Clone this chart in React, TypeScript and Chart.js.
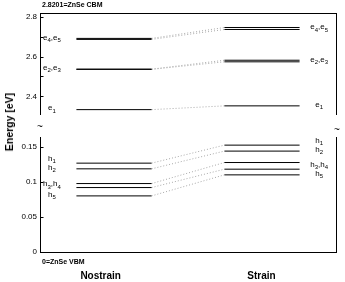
import React, { useEffect, useRef } from 'react';
import { Chart, registerables } from 'chart.js';

Chart.register(...registerables);

// ---------- data ----------
const categories = ['Nostrain', 'Strain'];
const cbmValue = 2.8201;
const vbmValue = 0;

const electronNames = ['e1', 'e2', 'e3', 'e4', 'e5'];
const electronNostrain = [2.333, 2.537, 2.536, 2.692, 2.687];
const electronStrain = [2.352, 2.582, 2.574, 2.747, 2.737];
const electronGroups = [[0], [1, 2], [3, 4]];

const holeNames = ['h1', 'h2', 'h3', 'h4', 'h5'];
const holeNostrain = [0.1267, 0.1186, 0.0976, 0.0919, 0.08];
const holeStrain = [0.1524, 0.1439, 0.1276, 0.1181, 0.11];
const holeGroups = [[0], [1], [2, 3], [4]];

const upperTicks = [2.4, 2.5, 2.6, 2.7, 2.8];
const upperTickLabels = ['2.4', '', '2.6', '', '2.8'];
const lowerTicks = [0, 0.05, 0.1, 0.15];
const lowerTickLabels = ['0', '0.05', '0.1', '0.15'];
const upperRange = [2.31, 2.82];
const lowerRange = [0, 0.164];

// ---------- layout / style ----------
const W = 345;
const UPPER_H = 122;
const LOWER_H = 160;
const PLOT_LEFT = 40;
const PLOT_RIGHT = 336;
const FONT = '"Liberation Sans", Arial, Helvetica, sans-serif';
const LEVEL_CENTER = [0.25, 0.75];
const LEVEL_HALF = 0.127;
const LABEL_X = [0.04, 0.943];
const CAT_LABEL_X = [0.205, 0.748];

Chart.defaults.font.family = FONT;
Chart.defaults.font.size = 8;
Chart.defaults.color = '#000';

function buildDatasets(names: string[], byCat: number[][]) {
  const ds: any[] = [];
  byCat.forEach((vals, c) => {
    vals.forEach((v, i) => {
      ds.push({
        label: `${names[i]} ${categories[c]}`,
        data: [
          { x: LEVEL_CENTER[c] - LEVEL_HALF, y: v },
          { x: LEVEL_CENTER[c] + LEVEL_HALF, y: v },
        ],
        borderColor: '#000',
        borderWidth: 1,
        pointRadius: 0,
        fill: false,
      });
    });
  });
  names.forEach((n, i) => {
    ds.push({
      label: `${n} shift`,
      data: [
        { x: LEVEL_CENTER[0] + LEVEL_HALF, y: byCat[0][i] },
        { x: LEVEL_CENTER[1] - LEVEL_HALF, y: byCat[1][i] },
      ],
      borderColor: '#a8a8a8',
      borderWidth: 1,
      borderDash: [1, 2],
      pointRadius: 0,
      fill: false,
    });
  });
  return ds;
}

function drawSubLabel(ctx: CanvasRenderingContext2D, names: string[], cx: number, cy: number) {
  const baseFont = `8px ${FONT}`;
  const subFont = `6px ${FONT}`;
  const pieces: { t: string; sub: boolean }[] = [];
  names.forEach((n, k) => {
    if (k) pieces.push({ t: ',', sub: false });
    pieces.push({ t: n[0], sub: false });
    pieces.push({ t: n.slice(1), sub: true });
  });
  let total = 0;
  const widths = pieces.map((p) => {
    ctx.font = p.sub ? subFont : baseFont;
    const w = ctx.measureText(p.t).width;
    total += w;
    return w;
  });
  let x = cx - total / 2;
  ctx.textAlign = 'left';
  ctx.textBaseline = 'middle';
  ctx.fillStyle = '#000';
  pieces.forEach((p, i) => {
    ctx.font = p.sub ? subFont : baseFont;
    ctx.fillText(p.t, x, p.sub ? cy + 3 : cy);
    x += widths[i];
  });
}

function levelLabelPlugin(names: string[], byCat: number[][], groups: number[][], nudges: number[]) {
  return {
    id: 'levelLabels',
    afterDatasetsDraw(chart: any) {
      const { ctx, scales } = chart;
      const xs = scales.x;
      const ys = scales.y;
      ctx.save();
      byCat.forEach((vals, c) => {
        groups.forEach((g, gi) => {
          const py = g.reduce((s, i) => s + ys.getPixelForValue(vals[i]), 0) / g.length;
          drawSubLabel(ctx, g.map((i) => names[i]), xs.getPixelForValue(LABEL_X[c]), py - 1.5 + nudges[gi]);
        });
      });
      ctx.restore();
    },
  };
}

// tick marks drawn inward from the left axis line
const insideTicksPlugin = {
  id: 'insideTicks',
  afterDraw(chart: any) {
    const { ctx } = chart;
    const ys = chart.scales.y;
    ctx.save();
    ctx.strokeStyle = '#000';
    ctx.lineWidth = 1;
    ctx.beginPath();
    ys.ticks.forEach((t: any) => {
      const py = Math.round(ys.getPixelForValue(t.value)) + 0.5;
      ctx.moveTo(ys.right, py);
      ctx.lineTo(ys.right + 3.5, py);
    });
    ctx.stroke();
    ctx.restore();
  },
};

const upperTextPlugin = {
  id: 'upperText',
  afterDraw(chart: any) {
    const { ctx, chartArea } = chart;
    ctx.save();
    ctx.font = `bold 7px ${FONT}`;
    ctx.fillStyle = '#000';
    ctx.textAlign = 'left';
    ctx.textBaseline = 'middle';
    ctx.fillText(`${cbmValue}=ZnSe CBM`, chartArea.left + 2, 5);
    ctx.restore();
  },
};

const lowerTextPlugin = {
  id: 'lowerText',
  afterDraw(chart: any) {
    const { ctx, chartArea } = chart;
    ctx.save();
    ctx.font = `bold 7px ${FONT}`;
    ctx.fillStyle = '#000';
    ctx.textAlign = 'left';
    ctx.textBaseline = 'middle';
    ctx.fillText(`${vbmValue}=ZnSe VBM`, chartArea.left + 2, chartArea.bottom + 10);
    ctx.font = `10px ${FONT}`;
    ctx.textAlign = 'center';
    ctx.fillText('~', chartArea.left, 5);
    ctx.fillText('~', chartArea.right + 1, 8);
    ctx.restore();
  },
};

function yScale(range: number[], ticks: number[], labels: string[]) {
  return {
    type: 'linear',
    position: 'left',
    min: range[0],
    max: range[1],
    afterBuildTicks: (s: any) => {
      s.ticks = ticks.map((v) => ({ value: v }));
    },
    afterFit: (s: any) => {
      s.width = PLOT_LEFT;
    },
    ticks: {
      autoSkip: false,
      padding: 3,
      font: { size: 8 },
      color: '#000',
      callback: (_v: any, i: number) => labels[i],
    },
    grid: { display: false, drawTicks: false },
    border: { display: true, color: '#000', width: 1 },
  };
}

function rightBorder(range: number[]) {
  return {
    type: 'linear',
    position: 'right',
    min: range[0],
    max: range[1],
    afterFit: (s: any) => {
      s.width = 0;
    },
    ticks: { display: false },
    grid: { display: false, drawTicks: false },
    border: { display: true, color: '#000', width: 1 },
  };
}

function upperConfig(): any {
  return {
    type: 'line',
    data: { datasets: buildDatasets(electronNames, [electronNostrain, electronStrain]) },
    plugins: [
      levelLabelPlugin(electronNames, [electronNostrain, electronStrain], electronGroups, [0, 0, 0]),
      insideTicksPlugin,
      upperTextPlugin,
    ],
    options: {
      animation: false,
      responsive: false,
      events: [],
      layout: { padding: { left: 0, right: W - PLOT_RIGHT, top: 13, bottom: 4 } },
      plugins: { legend: { display: false }, tooltip: { enabled: false } },
      scales: {
        x: {
          type: 'linear',
          position: 'top',
          min: 0,
          max: 1,
          afterFit: (s: any) => {
            s.height = 0;
          },
          ticks: { display: false },
          grid: { display: false, drawTicks: false },
          border: { display: true, color: '#000', width: 1 },
        },
        y: yScale(upperRange, upperTicks, upperTickLabels),
        yR: rightBorder(upperRange),
      },
    },
  };
}

function lowerConfig(): any {
  return {
    type: 'line',
    data: { datasets: buildDatasets(holeNames, [holeNostrain, holeStrain]) },
    plugins: [
      levelLabelPlugin(holeNames, [holeNostrain, holeStrain], holeGroups, [-3, 0, 0, 0]),
      insideTicksPlugin,
      lowerTextPlugin,
    ],
    options: {
      animation: false,
      responsive: false,
      events: [],
      layout: { padding: { left: 0, right: W - PLOT_RIGHT, top: 15, bottom: 0 } },
      plugins: { legend: { display: false }, tooltip: { enabled: false } },
      scales: {
        x: {
          type: 'linear',
          position: 'bottom',
          min: 0,
          max: 1,
          afterBuildTicks: (s: any) => {
            s.ticks = CAT_LABEL_X.map((v) => ({ value: v }));
          },
          afterFit: (s: any) => {
            s.height = 30;
          },
          ticks: {
            autoSkip: false,
            maxRotation: 0,
            padding: 18,
            font: { size: 10, weight: 'bold' },
            color: '#000',
            callback: (_v: any, i: number) => categories[i],
          },
          grid: { display: false, drawTicks: false },
          border: { display: true, color: '#000', width: 1 },
        },
        y: yScale(lowerRange, lowerTicks, lowerTickLabels),
        yR: rightBorder(lowerRange),
      },
    },
  };
}

export default function App() {
  const upperRef = useRef<HTMLCanvasElement>(null);
  const lowerRef = useRef<HTMLCanvasElement>(null);

  useEffect(() => {
    const up = new Chart(upperRef.current as HTMLCanvasElement, upperConfig());
    const lo = new Chart(lowerRef.current as HTMLCanvasElement, lowerConfig());
    return () => {
      up.destroy();
      lo.destroy();
    };
  }, []);

  return (
    <div style={{ position: 'absolute', left: 0, top: 0, width: W, height: UPPER_H + LOWER_H, background: '#fff', overflow: 'hidden' }}>
      <canvas ref={upperRef} width={W} height={UPPER_H} style={{ position: 'absolute', left: 0, top: 0 }} />
      <canvas ref={lowerRef} width={W} height={LOWER_H} style={{ position: 'absolute', left: 0, top: UPPER_H }} />
      <div
        style={{
          position: 'absolute',
          left: 9,
          top: 122,
          transform: 'translate(-50%, -50%) rotate(-90deg)',
          font: `bold 10.5px ${FONT}`,
          whiteSpace: 'nowrap',
          color: '#000',
        }}
      >
        Energy [eV]
      </div>
    </div>
  );
}
